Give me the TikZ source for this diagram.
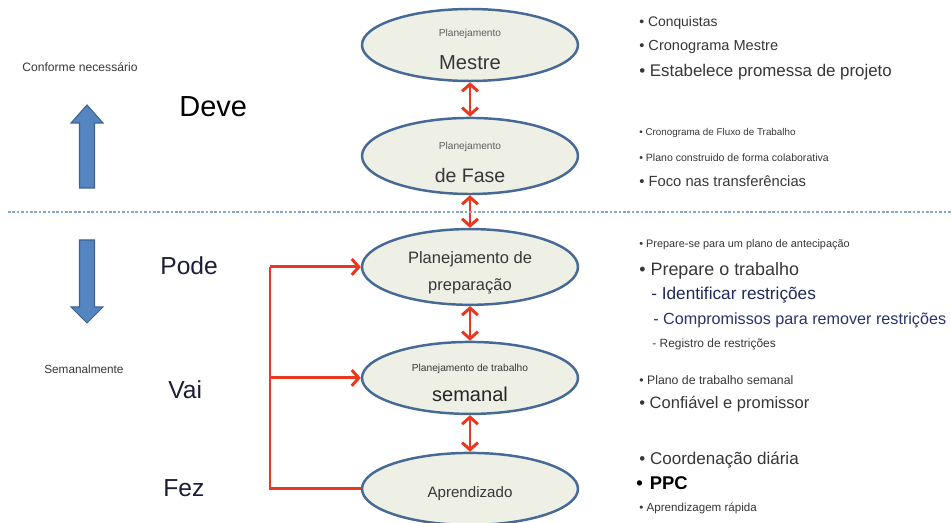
\documentclass[tikz,border=0pt]{standalone}
\usepackage{fontspec}
\setmainfont{Liberation Sans}
\usetikzlibrary{shapes.geometric, positioning, arrows.meta}

\definecolor{planfill}{RGB}{238,239,229}
\definecolor{planedge}{RGB}{70,105,150}
\definecolor{linkred}{RGB}{234,56,32}
\definecolor{bluearrow}{RGB}{84,133,192}
\definecolor{bluedge}{RGB}{60,98,145}
\definecolor{notegray}{RGB}{55,55,55}
\definecolor{lightgray}{RGB}{95,95,95}
\definecolor{navy}{RGB}{40,52,110}
\definecolor{levelc}{RGB}{28,30,55}
\definecolor{seplc}{RGB}{140,165,200}

\newcommand{\fsz}[2]{\fontsize{#1}{#2}\selectfont}

\begin{document}
\begin{tikzpicture}[
        x=0.02cm, y=-0.02cm,
        >={Straight Barb[length=4pt,width=9pt]},
        node distance=2.22cm,
        on grid,
        plan/.style={ellipse, draw=planedge, line width=1.4pt, fill=planfill,
            minimum width=4.32cm, minimum height=1.44cm, inner sep=0pt,
            align=center, text=notegray},
        link/.style={draw=linkred, line width=1.7pt},
        note/.style={anchor=base west, inner sep=0pt, text=notegray},
        level/.style={anchor=base west, inner sep=0pt, text=levelc, font=\fsz{14}{16}},
        sepline/.style={draw=seplc, line width=0.6pt, dash pattern=on 1.5pt off 1pt}
    ]
        \fill[white] (0,0) rectangle (951,523);
        \useasboundingbox (0,0) rectangle (951,523);
        \clip (0,0) rectangle (951,523);

        % planning levels
        \node[plan, font=\fsz{6}{18.7}] (mestre) at (470,45)
            {{\fsz{5.8}{7}\color{lightgray}\rule{0pt}{9pt}Planejamento}\\{\fsz{11.5}{14}Mestre}};
        \node[plan, font=\fsz{6}{19}, below=of mestre] (fase)
            {{\fsz{5.8}{7}\color{lightgray}\rule{0pt}{11.5pt}Planejamento}\\{\fsz{11.1}{14}de Fase}};
        \node[plan, font=\fsz{6}{15.5}, below=of fase] (prep)
            {{\fsz{9.4}{11}\rule{0pt}{13pt}Planejamento de}\\{\fsz{9.4}{11}preparação}};
        \node[plan, font=\fsz{6}{17.2}, below=of prep] (sema)
            {{\fsz{5.8}{7}\rule{0pt}{10pt}Planejamento de trabalho}\\{\fsz{11.4}{14}\color{black!85}semanal}};
        \node[plan, font=\fsz{8.6}{10}, below=of sema] (apre) {\rule{0pt}{12pt}Aprendizado};

        \path[link, <->]
            (mestre) edge (fase)
            (fase) edge (prep)
            (prep) edge (sema)
            (sema) edge (apre);

        \draw[sepline] (8,212) -- (951,212);

        % weekly feedback
        \coordinate (bus) at (270,0);
        \draw[link] (bus |- prep.west) -- (bus |- apre.west) -- (apre.west);
        \draw[link, ->] (bus |- prep.west) -- (prep.west);
        \draw[link, ->] (bus |- sema.west) -- (sema.west);

        % left side
        \filldraw[fill=bluearrow, draw=bluedge, line width=0.6pt]
            (79.5,188) -- (79.5,123) -- (71,123) -- (87,105) -- (103,123) -- (94.5,123) -- (94.5,188) -- cycle;
        \filldraw[fill=bluearrow, draw=bluedge, line width=0.6pt]
            (79.5,240) -- (79.5,307) -- (71,307) -- (87,323) -- (103,307) -- (94.5,307) -- (94.5,240) -- cycle;
        \node[note, font=\fsz{6.9}{8}] (conf) at (22,72) {Conforme necessário};
        \node[note, font=\fsz{6.7}{8}] (seml) at (44,374) {Semanalmente};
        \node[level, text=black, font=\fsz{16.5}{18}] (deve) at (179,117) {Deve};
        \node[level] (pode) at (160,275) {Pode};
        \node[level] (vai) at (168,399) {Vai};
        \node[level] (fez) at (163,497) {Fez};

        % right side notes
        \node[note, font=\fsz{7.9}{9}] (n1) at (639,27) {• Conquistas};
        \node[note, font=\fsz{8.3}{10}] (n2) at (639,51) {• Cronograma Mestre};
        \node[note, font=\fsz{9.6}{11}] (n3) at (639,77) {• Estabelece promessa de projeto};
        \node[note, font=\fsz{5.6}{7}] (n4) at (639,136) {• Cronograma de Fluxo de Trabalho};
        \node[note, font=\fsz{6}{7}] (n5) at (639,162) {• Plano construido de forma colaborativa};
        \node[note, font=\fsz{8.4}{10}] (n6) at (639,187) {• Foco nas transferências};
        \node[note, font=\fsz{6.2}{7}] (n7) at (639,248) {• Prepare-se para um plano de antecipação};
        \node[note, font=\fsz{10.2}{12}] (n8) at (639,276) {• Prepare o trabalho};
        \node[note, text=navy!80!black, font=\fsz{9.8}{12}] (n9) at (651,300) {- Identificar restrições};
        \node[note, text=navy, font=\fsz{9.2}{11}] (n10) at (653,325) {- Compromissos para remover restrições};
        \node[note, font=\fsz{6.8}{8}] (n11) at (652,348) {- Registro de restrições};
        \node[note, font=\fsz{7}{8}] (n12) at (639,385) {• Plano de trabalho semanal};
        \node[note, font=\fsz{9.4}{11}] (n13) at (639,409) {• Confiável e promissor};
        \node[note, font=\fsz{9.7}{11}] (n14) at (639,465) {• Coordenação diária};
        \node[note, text=black, font=\fsz{10.5}{12}\bfseries] (n15) at (636,490) {•\hspace{4pt}PPC};
        \node[note, font=\fsz{6.6}{8}] (n16) at (639,512) {• Aprendizagem rápida};
\end{tikzpicture}
\end{document}
